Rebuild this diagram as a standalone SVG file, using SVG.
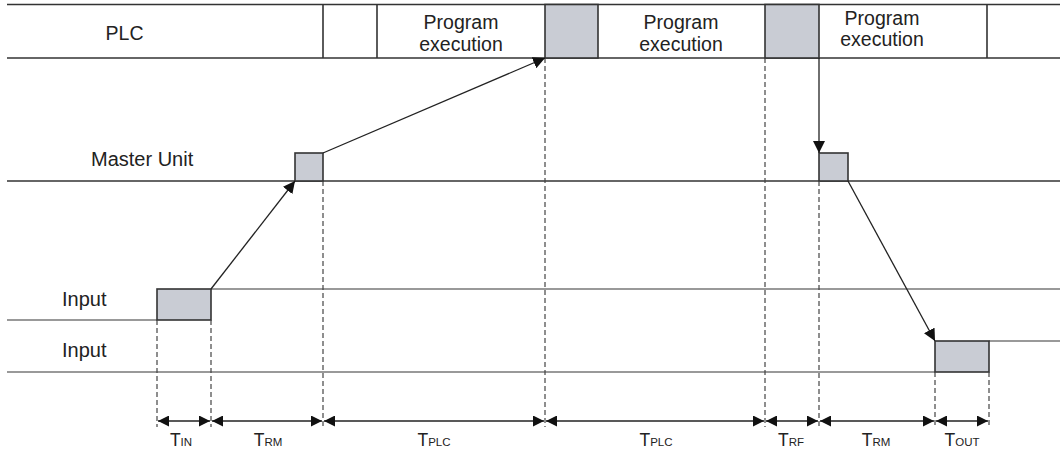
<svg xmlns="http://www.w3.org/2000/svg" width="1060" height="453" viewBox="0 0 1060 453">
<style>
.t{font-family:"Liberation Sans",Arial,sans-serif;font-size:19.5px;fill:#222}
.s{font-family:"Liberation Sans",Arial,sans-serif;font-size:17.5px;fill:#222}
.s tspan.sub{font-size:11.5px}
.ln{stroke:#333;stroke-width:1.6;fill:none}
.gl{stroke:#777;stroke-width:1.6;fill:none}
.box{fill:#c9ccd4;stroke:#333;stroke-width:1.6}
.ds{stroke:#444;stroke-width:1.2;stroke-dasharray:5,3;fill:none}
.ar{stroke:#222;stroke-width:1.3;fill:none}
</style>
<defs>
<marker id="ah" viewBox="0 0 10 10" refX="10" refY="5" markerWidth="12" markerHeight="12" markerUnits="userSpaceOnUse" orient="auto">
<path d="M0,0 L10,5 L0,10 z" fill="#111"/>
</marker>
<marker id="dh" viewBox="0 0 10 10" refX="10" refY="5" markerWidth="11" markerHeight="11" markerUnits="userSpaceOnUse" orient="auto-start-reverse">
<path d="M0,0 L10,5 L0,10 z" fill="#111"/>
</marker>
</defs>

<g id="plc">
<line class="ln" x1="7" y1="4.5" x2="1060" y2="4.5"/>
<line class="ln" x1="7" y1="58" x2="1060" y2="58"/>
<rect class="box" x="545" y="4.5" width="53" height="53.5"/>
<rect class="box" x="765" y="4.5" width="54" height="53.5"/>
<line class="ln" x1="323" y1="4.5" x2="323" y2="58"/>
<line class="ln" x1="377" y1="4.5" x2="377" y2="58"/>
<line class="ln" x1="987" y1="4.5" x2="987" y2="58"/>
<text class="t" x="124.5" y="40" text-anchor="middle">PLC</text>
<text class="t" x="461" y="29" text-anchor="middle">Program</text>
<text class="t" x="461" y="51" text-anchor="middle">execution</text>
<text class="t" x="681" y="29" text-anchor="middle">Program</text>
<text class="t" x="681" y="51" text-anchor="middle">execution</text>
<text class="t" x="882" y="25" text-anchor="middle">Program</text>
<text class="t" x="882" y="46" text-anchor="middle">execution</text>
</g>

<g id="master">
<line class="ln" x1="7" y1="181" x2="1060" y2="181"/>
<rect class="box" x="295" y="153" width="28" height="28"/>
<rect class="box" x="819" y="153" width="29" height="28"/>
<text class="t" x="91" y="166" style="font-size:20px">Master Unit</text>
</g>

<g id="input1">
<polyline class="gl" points="7,320 157,320"/>
<polyline class="gl" points="211,289 1060,289"/>
<rect class="box" x="157" y="289" width="54" height="31"/>
<text class="t" x="62" y="306" style="font-size:20px">Input</text>
</g>

<g id="input2">
<polyline class="gl" points="7,372 935,372"/>
<polyline class="gl" points="989,341 1060,341"/>
<rect class="box" x="935" y="341" width="54" height="31"/>
<text class="t" x="62" y="357" style="font-size:20px">Input</text>
</g>

<g id="connectors">
<line class="ds" x1="157" y1="320" x2="157" y2="427"/>
<line class="ds" x1="211" y1="320" x2="211" y2="427"/>
<line class="ds" x1="323" y1="181" x2="323" y2="427"/>
<line class="ds" x1="545" y1="58" x2="545" y2="427"/>
<line class="ds" x1="765" y1="58" x2="765" y2="427"/>
<line class="ds" x1="819" y1="181" x2="819" y2="427"/>
<line class="ds" x1="935" y1="372" x2="935" y2="427"/>
<line class="ds" x1="989" y1="372" x2="989" y2="427"/>

<line class="ar" x1="211" y1="289" x2="295" y2="181" marker-end="url(#ah)"/>
<line class="ar" x1="323" y1="153" x2="545" y2="58" marker-end="url(#ah)"/>
<line class="ar" x1="819" y1="58" x2="819" y2="153" marker-end="url(#ah)"/>
<line class="ar" x1="848" y1="181" x2="935" y2="341" marker-end="url(#ah)"/>

<line class="ar" x1="158" y1="421" x2="210" y2="421" marker-start="url(#dh)" marker-end="url(#dh)"/>
<line class="ar" x1="212" y1="421" x2="322" y2="421" marker-start="url(#dh)" marker-end="url(#dh)"/>
<line class="ar" x1="324" y1="421" x2="544" y2="421" marker-start="url(#dh)" marker-end="url(#dh)"/>
<line class="ar" x1="546" y1="421" x2="764" y2="421" marker-start="url(#dh)" marker-end="url(#dh)"/>
<line class="ar" x1="766" y1="421" x2="818" y2="421" marker-start="url(#dh)" marker-end="url(#dh)"/>
<line class="ar" x1="820" y1="421" x2="934" y2="421" marker-start="url(#dh)" marker-end="url(#dh)"/>
<line class="ar" x1="936" y1="421" x2="988" y2="421" marker-start="url(#dh)" marker-end="url(#dh)"/>
</g>

<g id="labels">
<text class="s" x="181" y="446" text-anchor="middle">T<tspan class="sub">IN</tspan></text>
<text class="s" x="268" y="446" text-anchor="middle">T<tspan class="sub">RM</tspan></text>
<text class="s" x="434" y="446" text-anchor="middle">T<tspan class="sub">PLC</tspan></text>
<text class="s" x="656" y="446" text-anchor="middle">T<tspan class="sub">PLC</tspan></text>
<text class="s" x="791" y="446" text-anchor="middle">T<tspan class="sub">RF</tspan></text>
<text class="s" x="876" y="446" text-anchor="middle">T<tspan class="sub">RM</tspan></text>
<text class="s" x="962" y="446" text-anchor="middle">T<tspan class="sub">OUT</tspan></text>
</g>
</svg>
